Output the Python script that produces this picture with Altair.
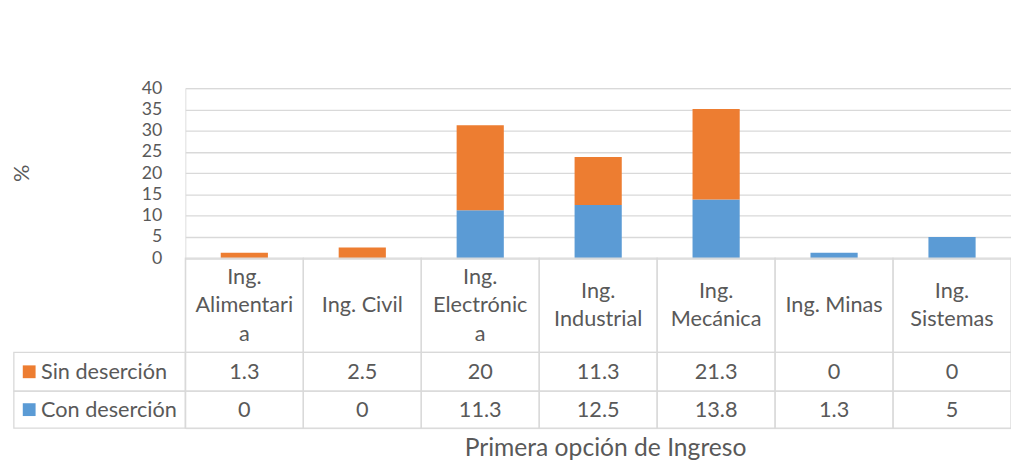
import altair as alt
import pandas as pd

# ---------------- data ----------------
categories = ["Ing. Alimentaria", "Ing. Civil", "Ing. Electrónica", "Ing. Industrial",
              "Ing. Mecánica", "Ing. Minas", "Ing. Sistemas"]
header_labels = ["Ing.|Alimentari|a", "Ing. Civil", "Ing.|Electrónic|a", "Ing.|Industrial",
                 "Ing.|Mecánica", "Ing. Minas", "Ing.|Sistemas"]
series_names = ["Sin deserción", "Con deserción"]
sin_desercion = [1.3, 2.5, 20, 11.3, 21.3, 0, 0]
con_desercion = [0, 0, 11.3, 12.5, 13.8, 1.3, 5]
y_ticks = [0, 5, 10, 15, 20, 25, 30, 35, 40]
series_colors = ["#ED7D31", "#5B9BD5"]

# ---------------- layout (style) ----------------
FONT = "Lato"
TXT = "#595959"
LINE = "#D9D9D9"
FS = 22
W = 838
H = 345
Y_DOMAIN = [-40, 40]
PX_PER_UNIT = H / (Y_DOMAIN[1] - Y_DOMAIN[0])
HEADER_BOTTOM = -22.18
ROW_BOTTOMS = [-31.29, -40.0]
LEGEND_LEFT = -1.454
BAR_HALF = 0.2
LINE_H = 29

n = len(categories)
bars = pd.DataFrame({
    "cat": categories,
    "x1": [i + 0.5 - BAR_HALF for i in range(n)],
    "x2": [i + 0.5 + BAR_HALF for i in range(n)],
    "con": con_desercion,
    "total": [a + b for a, b in zip(con_desercion, sin_desercion)],
})

line_units = LINE_H / PX_PER_UNIT
header = pd.DataFrame({
    "x1": [float(i) for i in range(n)],
    "x2": [float(i + 1) for i in range(n)],
    "xc": [i + 0.5 for i in range(n)],
    "y1": [0.0] * n,
    "y2": [HEADER_BOTTOM] * n,
    "yc": [HEADER_BOTTOM / 2 + (lab.count("|")) / 2 * line_units for lab in header_labels],
    "label": header_labels,
})

rows = []
tops = [HEADER_BOTTOM, ROW_BOTTOMS[0]]
for r, (name, vals) in enumerate(zip(series_names, [sin_desercion, con_desercion])):
    for i, v in enumerate(vals):
        rows.append({"x1": float(i), "x2": float(i + 1), "xc": i + 0.5,
                     "y1": tops[r], "y2": ROW_BOTTOMS[r],
                     "yc": (tops[r] + ROW_BOTTOMS[r]) / 2, "label": f"{v:g}"})
cells = pd.DataFrame(rows)

legend = pd.DataFrame({
    "name": series_names,
    "color": series_colors,
    "x1": [LEGEND_LEFT] * 2,
    "x2": [0.0] * 2,
    "xs": [LEGEND_LEFT + 0.13] * 2,
    "xt": [LEGEND_LEFT + 0.23] * 2,
    "y1": tops,
    "y2": ROW_BOTTOMS,
    "yc": [(t + b) / 2 for t, b in zip(tops, ROW_BOTTOMS)],
})

xscale = alt.Scale(domain=[0, n], nice=False, zero=False)
yscale = alt.Scale(domain=Y_DOMAIN, nice=False, zero=False)
xaxis = alt.Axis(title="Primera opción de Ingreso", labels=False, ticks=False, domain=False,
                 grid=False, titleFont=FONT, titleFontSize=25, titleFontWeight="normal",
                 titleColor=TXT, titlePadding=8, titleX=W / 2 + 7, titleAlign="center")
yaxis = alt.Axis(title="%", values=y_ticks, ticks=False, domain=False, grid=True,
                 gridColor=LINE, gridWidth=1.3, labelFont=FONT, labelFontSize=18,
                 labelColor=TXT, labelPadding=24, labelOverlap=False, labelBound=False,
                 labelFlush=False,
                 titleFont=FONT, titleFontSize=22,
                 titleFontWeight="normal", titleColor=TXT, titleX=-166, titleY=86,
                 titleAlign="center", titleBaseline="middle", titleAngle=270)


def X(f):
    return alt.X(f, type="quantitative", scale=xscale, axis=xaxis)


def Y(f):
    return alt.Y(f, type="quantitative", scale=yscale, axis=yaxis)


blue = alt.Chart(bars).mark_bar(color=series_colors[1]).encode(
    x=X("x1"), x2="x2", y=Y("con"), y2=alt.datum(0))
orange = alt.Chart(bars).mark_bar(color=series_colors[0]).encode(
    x=X("x1"), x2="x2", y=Y("total"), y2="con")

header_cells = alt.Chart(header).mark_rect(fill="transparent", stroke=LINE, strokeWidth=1.3).encode(
    x=X("x1"), x2="x2", y=Y("y1"), y2="y2")
header_text = alt.Chart(header).mark_text(font=FONT, fontSize=FS, color=TXT, lineBreak="|",
                                          lineHeight=LINE_H, baseline="middle", align="center").encode(
    x=X("xc"), y=Y("yc"), text="label:N")

value_cells = alt.Chart(cells).mark_rect(fill="transparent", stroke=LINE, strokeWidth=1.3).encode(
    x=X("x1"), x2="x2", y=Y("y1"), y2="y2")
value_text = alt.Chart(cells).mark_text(font=FONT, fontSize=FS, color=TXT,
                                        baseline="middle", align="center").encode(
    x=X("xc"), y=Y("yc"), text="label:N")

legend_cells = alt.Chart(legend).mark_rect(fill="transparent", stroke=LINE, strokeWidth=1.3).encode(
    x=X("x1"), x2="x2", y=Y("y1"), y2="y2")
legend_sym = alt.Chart(legend).mark_point(shape="square", size=169, filled=True, opacity=1).encode(
    x=X("xs"), y=Y("yc"),
    color=alt.Color("color:N", scale=None))
legend_text = alt.Chart(legend).mark_text(font=FONT, fontSize=FS, color=TXT,
                                          baseline="middle", align="left").encode(
    x=X("xt"), y=Y("yc"), text="name:N")

chart = alt.layer(
    blue, orange, header_cells, header_text, value_cells, value_text,
    legend_cells, legend_sym, legend_text
).properties(
    width=W, height=H,
    autosize=alt.AutoSizeParams(type="none"),
    padding={"left": 180, "top": 78, "right": 0, "bottom": 35},
).configure_view(stroke=None).configure(background="white")

chart.save("out.html", embed_options={"renderer": "svg", "actions": False})
